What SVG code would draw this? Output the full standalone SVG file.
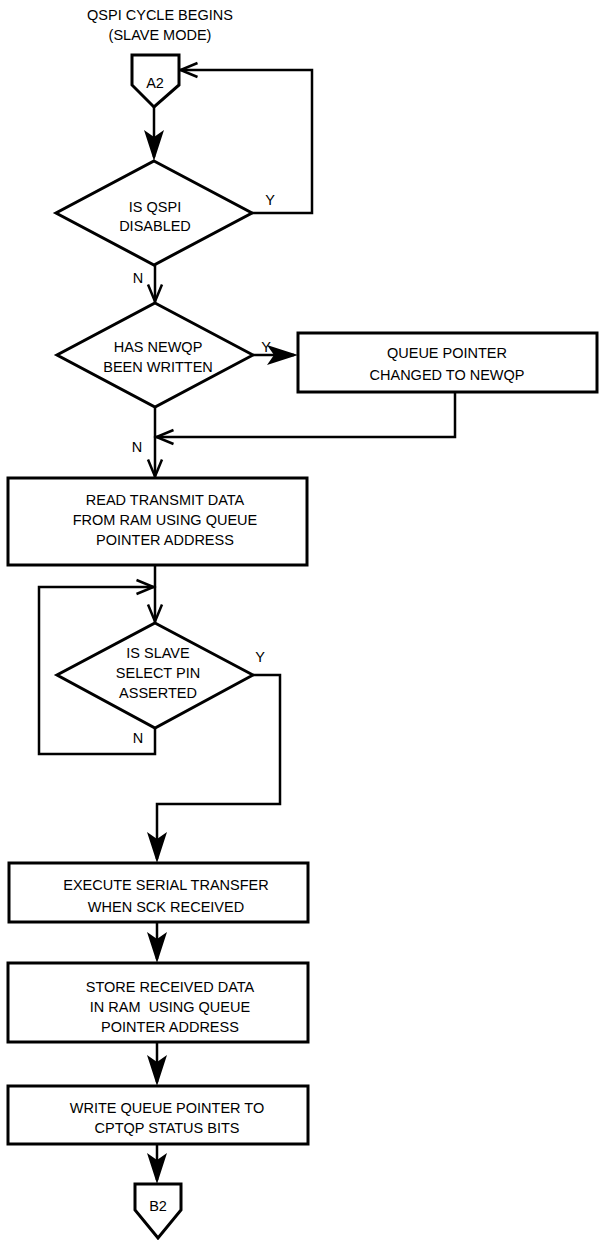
<svg xmlns="http://www.w3.org/2000/svg" width="601" height="1240" viewBox="0 0 601 1240">
<style>
.shape{fill:#fff;stroke:#000;stroke-width:3;stroke-linejoin:miter}
.conn{fill:none;stroke:#000;stroke-width:2.5;stroke-linejoin:miter}
text{font-family:"Liberation Sans",Arial,sans-serif;font-size:14.5px;fill:#000;text-anchor:middle}
.pre{white-space:pre}
</style>
<defs>
<marker id="filled" markerUnits="userSpaceOnUse" viewBox="-33 -12 36 24" markerWidth="36" markerHeight="24" refX="-4" refY="0" orient="auto">
<path d="M0,0 L-31,-10 L-24,0 L-31,10 Z" fill="#000"/>
</marker>
<marker id="open" markerUnits="userSpaceOnUse" viewBox="-20 -10 24 20" markerWidth="24" markerHeight="20" refX="1.5" refY="0" orient="auto">
<path d="M-17,-7 L0,0 L-17,7" fill="none" stroke="#000" stroke-width="2.5"/>
</marker>
</defs>
<rect width="601" height="1240" fill="#fff"/>
<g id="title">
<text x="160" y="20">QSPI CYCLE BEGINS</text>
<text x="160" y="40">(SLAVE MODE)</text>
</g>
<g id="connectors">
<path class="conn" d="M154,107 V157" marker-end="url(#filled)"/>
<path class="conn" d="M252,213 H312 V70 H179" marker-end="url(#open)"/>
<path class="conn" d="M155,265 V303" marker-end="url(#open)"/>
<path class="conn" d="M253,355 H294" marker-end="url(#filled)"/>
<path class="conn" d="M155,407 V478" marker-end="url(#open)"/>
<path class="conn" d="M455,392 V437 H155" marker-end="url(#open)"/>
<path class="conn" d="M155,565 V623" marker-end="url(#open)"/>
<path class="conn" d="M155,728 V754 H39 V587 H155" marker-end="url(#open)"/>
<path class="conn" d="M253,675 H280 V804 H157 V859" marker-end="url(#filled)"/>
<path class="conn" d="M157,922 V959" marker-end="url(#filled)"/>
<path class="conn" d="M157,1042 V1082" marker-end="url(#filled)"/>
<path class="conn" d="M157,1144 V1180" marker-end="url(#filled)"/>
</g>
<g id="labels">
<text x="270" y="205">Y</text>
<text x="138" y="283">N</text>
<text x="266" y="352">Y</text>
<text x="137" y="452">N</text>
<text x="260" y="662">Y</text>
<text x="138" y="743">N</text>
</g>
<g id="A2">
<polygon class="shape" points="132,55 179,55 179,85 154,107 132,85"/>
<text x="155" y="88">A2</text>
</g>
<g id="qspi_disabled">
<polygon class="shape" points="154,161 252,213 154,265 56,213"/>
<text x="155" y="212">IS QSPI</text>
<text x="155" y="231">DISABLED</text>
</g>
<g id="newqp_written">
<polygon class="shape" points="155,303 253,355 155,407 57,355"/>
<text x="158" y="352">HAS NEWQP</text>
<text x="158" y="372">BEEN WRITTEN</text>
</g>
<g id="qp_changed">
<rect class="shape" x="298" y="333" width="299" height="59"/>
<text x="447" y="358">QUEUE POINTER</text>
<text x="447" y="380">CHANGED TO NEWQP</text>
</g>
<g id="read_tx">
<rect class="shape" x="8" y="478" width="299" height="87"/>
<text x="165" y="505">READ TRANSMIT DATA</text>
<text x="165" y="525">FROM RAM USING QUEUE</text>
<text x="165" y="545">POINTER ADDRESS</text>
</g>
<g id="ss_asserted">
<polygon class="shape" points="155,623 253,675 155,728 57,675"/>
<text x="158" y="658">IS SLAVE</text>
<text x="158" y="678">SELECT PIN</text>
<text x="158" y="698">ASSERTED</text>
</g>
<g id="execute">
<rect class="shape" x="9" y="863" width="299" height="59"/>
<text x="166" y="890">EXECUTE SERIAL TRANSFER</text>
<text x="166" y="912">WHEN SCK RECEIVED</text>
</g>
<g id="store">
<rect class="shape" x="8" y="963" width="300" height="79"/>
<text x="170" y="992">STORE RECEIVED DATA</text>
<text x="170" y="1012" class="pre">IN RAM  USING QUEUE</text>
<text x="170" y="1032">POINTER ADDRESS</text>
</g>
<g id="write_qp">
<rect class="shape" x="8" y="1086" width="300" height="58"/>
<text x="167" y="1113">WRITE QUEUE POINTER TO</text>
<text x="167" y="1133">CPTQP STATUS BITS</text>
</g>
<g id="B2">
<polygon class="shape" points="135,1184 181,1184 181,1210 158,1238 135,1210"/>
<text x="158" y="1211">B2</text>
</g>
</svg>
